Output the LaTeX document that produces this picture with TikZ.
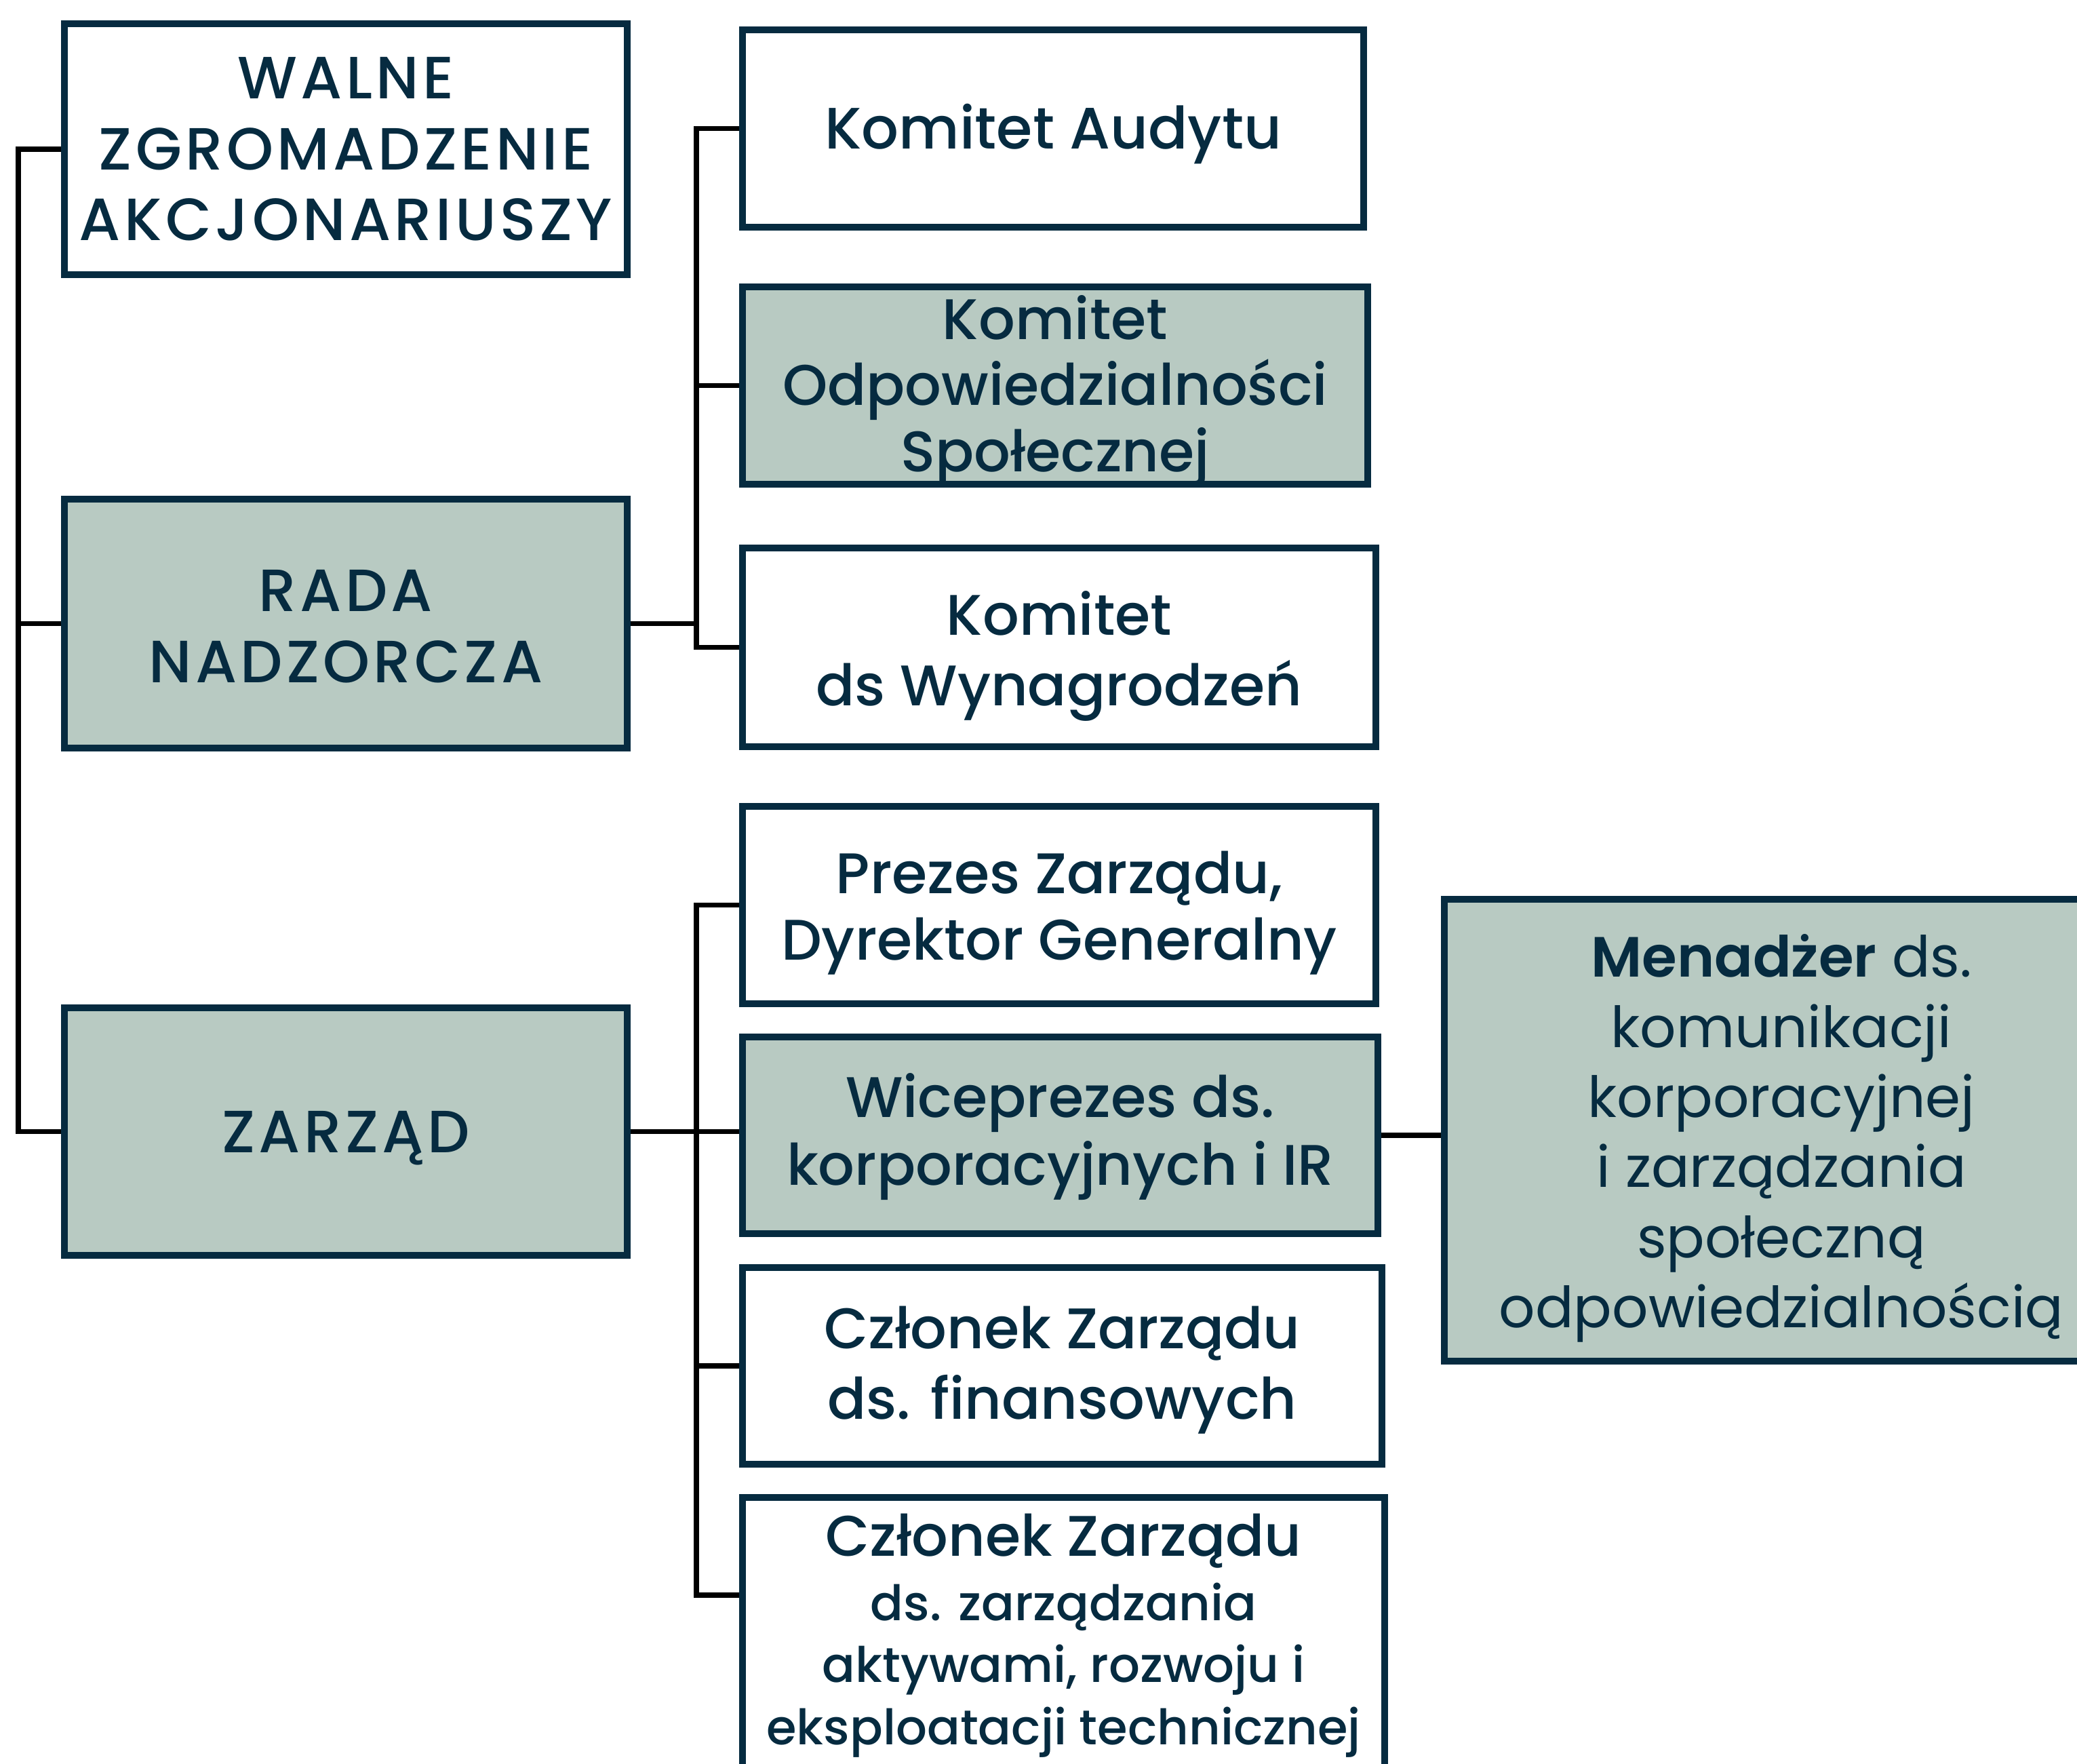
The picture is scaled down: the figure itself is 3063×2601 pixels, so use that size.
\documentclass[tikz,border=0pt]{standalone}
\usepackage{fontspec}
\setmainfont{Poppins}[UprightFont=* Medium, BoldFont=* SemiBold]
\newfontfamily\capsfont{Poppins}[UprightFont=* Medium, LetterSpace=6]
\newfontfamily\bookfont{Poppins}[BoldFont=* SemiBold]
\definecolor{navy}{HTML}{062B40}
\definecolor{sage}{HTML}{B8CAC2}
\tikzset{
  box/.style={draw=navy, line width=0.1cm, inner sep=0pt, fill=white},
  sagebox/.style={box, fill=sage},
  txt/.style={text=navy, align=center, inner sep=0pt},
  conn/.style={draw=black, line width=0.075cm},
  capsf/.style={font=\capsfont\fontsize{25}{29.7}\selectfont},
}
\begin{document}
\begin{tikzpicture}[x=0.01cm,y=-0.01cm]
\useasboundingbox (0,0) rectangle (3063,2601);
% left column
\node[box, minimum width=8.3cm, minimum height=3.69cm] (walne) at (510,220) {};
\node[txt, capsf] (walne-t) at (walne.center) {WALNE\\ZGROMADZENIE\\AKCJONARIUSZY};
\node[sagebox, minimum width=8.3cm, minimum height=3.67cm] (rada) at (510,919.5) {};
\node[txt, capsf] (rada-t) at ([yshift=-0.04cm]rada.center) {RADA\\NADZORCZA};
\node[sagebox, minimum width=8.3cm, minimum height=3.65cm] (zarzad) at (510,1668.5) {};
\node[txt, capsf] (zarzad-t) at ([yshift=-0.1cm]zarzad.center) {ZARZĄD};
% committees
\node[box, minimum width=9.16cm, minimum height=2.91cm] (audytu) at (1553,189.5) {};
\node[txt, font=\fontsize{24.5}{28}\selectfont] (audytu-t) at ([yshift=-0.08cm]audytu.center) {Komitet Audytu};
\node[sagebox, minimum width=9.22cm, minimum height=2.91cm] (kos) at (1556,568.5) {};
\node[txt, font=\fontsize{24}{27.7}\selectfont] (kos-t) at ([yshift=-0.08cm]kos.center) {Komitet\\Odpowiedzialności\\Społecznej};
\node[box, minimum width=9.34cm, minimum height=2.93cm] (kdsw) at (1562,954.5) {};
\node[txt, font=\fontsize{24}{29.4}\selectfont] (kdsw-t) at ([yshift=-0.13cm]kdsw.center) {Komitet\\ds Wynagrodzeń};
% board
\node[box, minimum width=9.34cm, minimum height=2.91cm] (prezes) at (1562,1334.5) {};
\node[txt, font=\fontsize{24}{27.8}\selectfont] (prezes-t) at ([yshift=-0.12cm]prezes.center) {Prezes Zarządu,\\Dyrektor Generalny};
\node[sagebox, minimum width=9.37cm, minimum height=2.90cm] (wice) at (1563.5,1674) {};
\node[txt, font=\fontsize{24}{28.3}\selectfont] (wice-t) at ([yshift=-0.02cm]wice.center) {Wiceprezes ds.\\korporacyjnych i IR};
\node[box, minimum width=9.43cm, minimum height=2.90cm] (fin) at (1566.5,2014) {};
\node[txt, font=\fontsize{24}{29.4}\selectfont] (fin-t) at ([yshift=-0.06cm]fin.center) {Członek Zarządu\\ds. finansowych};
\node[box, minimum width=9.47cm, minimum height=4.07cm] (czz) at (1568.5,2411.5) {};
\node[txt, font=\fontsize{20.5}{26}\selectfont] (czz-t) at (czz.center) {{\fontsize{24}{26}\selectfont Członek Zarządu}\\[1pt]ds. zarządzania\\aktywami, rozwoju i\\eksploatacji technicznej};
% manager
\node[sagebox, minimum width=10.0cm, minimum height=6.81cm] (menadzer) at (2630,1666.5) {};
\node[txt, font=\bookfont\fontsize{23.8}{29.4}\selectfont] (menadzer-t) at ([xshift=-0.03cm, yshift=-0.12cm]menadzer.center) {\textbf{Menadżer} ds.\\komunikacji\\korporacyjnej\\i zarządzania\\społeczną\\odpowiedzialnością};
% buses
\coordinate (busL) at (27,0);
\coordinate (busK) at (1027,0);
\coordinate (czzc) at (1090,2352);
\draw[conn] (walne.west) -- (walne.west -| busL) -- (zarzad.west -| busL) -- (zarzad.west);
\draw[conn] (rada.west) -- (rada.west -| busL);
\draw[conn] (rada.east) -- (rada.east -| busK);
\draw[conn] (audytu.west) -- (audytu.west -| busK) -- (kdsw.west -| busK) -- (kdsw.west);
\draw[conn] (kos.west) -- (kos.west -| busK);
\draw[conn] (zarzad.east) -- (zarzad.east -| wice.west);
\draw[conn] (prezes.west) -- (prezes.west -| busK) -- (czzc -| busK) -- (czzc);
\draw[conn] (fin.west) -- (fin.west -| busK);
\draw[conn] (wice.east) -- (wice.east -| menadzer.west);
\end{tikzpicture}
\end{document}
